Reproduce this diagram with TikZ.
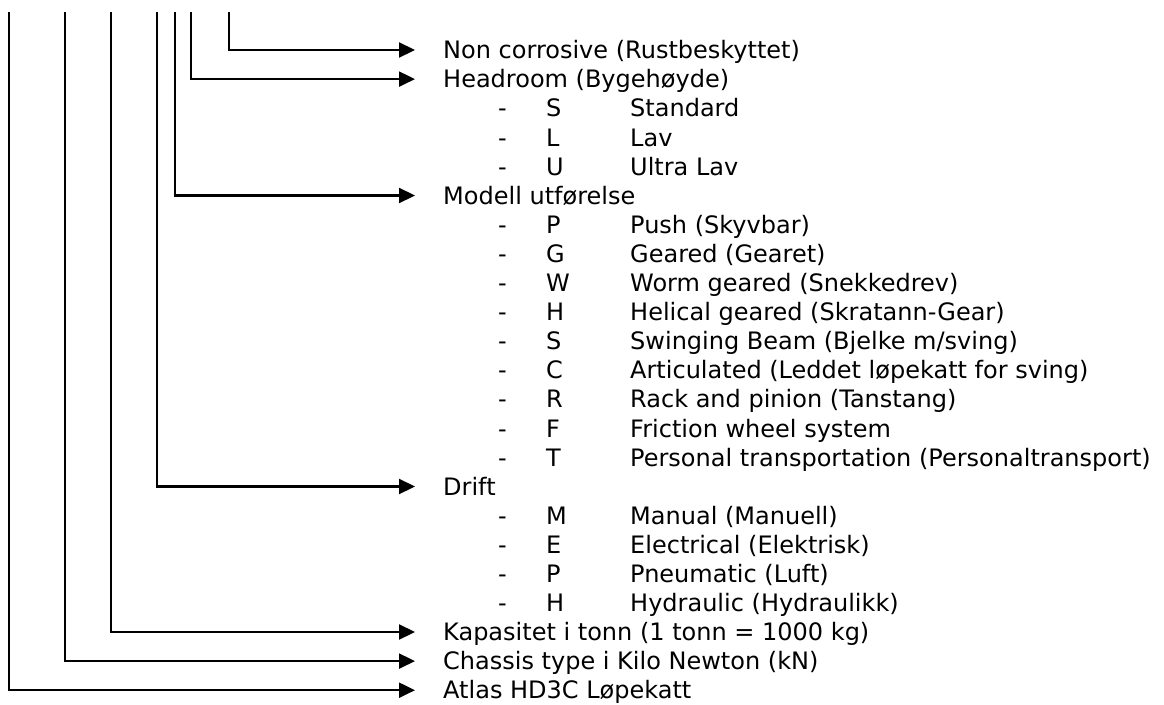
\documentclass[tikz,border=0pt]{standalone}
\usepackage{fontspec}
\setmainfont{DejaVu Sans}
\usetikzlibrary{arrows.meta,positioning}

\tikzset{
  lbl/.style={anchor=west,inner sep=0pt,text height=17.5pt,text depth=0pt,
    font=\fontsize{24}{29}\selectfont},
  lead/.style={line width=2.2pt,-{Triangle[length=16pt,width=15pt]},shorten >=28pt},
}

\begin{document}
\begin{tikzpicture}[x=1pt,y=-1pt]
\useasboundingbox (0,0) rectangle (1164,704);

%% headings, one per code position
\node[lbl] (rust)  at (443,50)    {Non corrosive (Rustbeskyttet)};
\node[lbl] (head)  at (443,79.1)  {Headroom (Bygehøyde)};
\node[lbl] (model) at (443,195.5) {Modell utførelse};
\node[lbl] (drift) at (443,486.5) {Drift};
\node[lbl] (cap)   at (443,632)   {Kapasitet i tonn (1 tonn = 1000 kg)};
\node[lbl] (chas)  at (443,661.1) {Chassis type i Kilo Newton (kN)};
\node[lbl] (atlas) at (443,690.2) {Atlas HD3C Løpekatt};

%% the choices under each heading
\foreach \k/\c/\t in {2/S/Standard, 3/L/Lav, 4/U/Ultra Lav,
    6/P/Push (Skyvbar), 7/G/Geared (Gearet), 8/W/Worm geared (Snekkedrev),
    9/H/Helical geared (Skratann-Gear), 10/S/{Swinging Beam (Bjelke m/sving)},
    11/C/Articulated (Leddet løpekatt for sving), 12/R/Rack and pinion (Tanstang),
    13/F/Friction wheel system, 14/T/Personal transportation (Personaltransport),
    16/M/Manual (Manuell), 17/E/Electrical (Elektrisk), 18/P/Pneumatic (Luft),
    19/H/Hydraulic (Hydraulikk)}{
  \node[lbl] (dash\k) at (498,{50+29.1*\k}) {-};
  \node[lbl] (code\k) at (546,{50+29.1*\k}) {\c};
  \node[lbl] (desc\k) at (630,{50+29.1*\k}) {\t};
}

%% tops of the leader lines
\coordinate (tRust)  at (229,12);
\coordinate (tHead)  at (191,12);
\coordinate (tModel) at (175,12);
\coordinate (tDrift) at (157,12);
\coordinate (tCap)   at (111,12);
\coordinate (tChas)  at (65,12);
\coordinate (tAtlas) at (9,12);

\draw[lead] (tRust)  |- (rust.west);
\draw[lead] (tHead)  |- (head.west);
\draw[lead] (tModel) |- (model.west);
\draw[lead] (tDrift) |- (drift.west);
\draw[lead] (tCap)   |- (cap.west);
\draw[lead] (tChas)  |- (chas.west);
\draw[lead] (tAtlas) |- (atlas.west);
\end{tikzpicture}
\end{document}
